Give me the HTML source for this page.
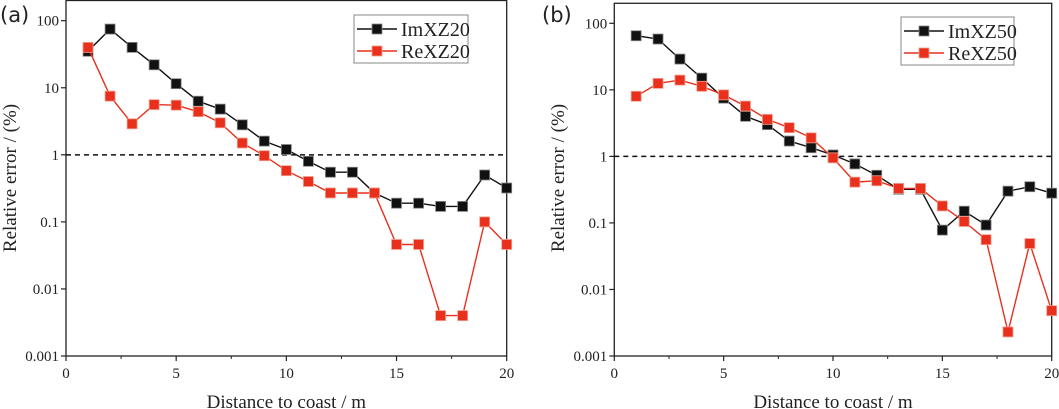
<!DOCTYPE html>
<html><head><meta charset="utf-8"><style>
body{margin:0;background:#fff;width:1059px;height:409px;overflow:hidden}
svg{display:block}
text{font-family:"Liberation Serif",serif;fill:#222}
</style></head><body>
<svg id="chart" width="1059" height="409"></svg>
<script>
const xTicks=[0,5,10,15,20];
const yTicks=[0.001,0.01,0.1,1,10,100];
const yTickLabels=["0.001","0.01","0.1","1","10","100"];
const distances=[1,2,3,4,5,6,7,8,9,10,11,12,13,14,15,16,17,18,19,20];
const imXZ20=[35,75,40,22,11.5,6.3,4.8,2.8,1.6,1.2,0.8,0.55,0.55,0.27,0.19,0.19,0.17,0.17,0.5,0.32];
const reXZ20=[40,7.5,2.9,5.6,5.5,4.4,3,1.5,0.97,0.58,0.4,0.27,0.27,0.27,0.046,0.046,0.004,0.004,0.1,0.046];
const imXZ50=[65,58,29,15,7.5,4,3,1.7,1.35,1.05,0.77,0.52,0.32,0.32,0.078,0.15,0.093,0.3,0.35,0.28];
const reXZ50=[8,12.5,14,11.3,8.4,5.7,3.6,2.7,1.9,0.95,0.41,0.43,0.33,0.33,0.18,0.105,0.056,0.0023,0.049,0.0048];

const NS="http://www.w3.org/2000/svg";
const svg=document.getElementById('chart');
function mk(tag,attrs,parent){const e=document.createElementNS(NS,tag);for(const k in attrs)e.setAttribute(k,attrs[k]);(parent||svg).appendChild(e);return e;}

function panel(cfg){
  const g=mk('g',{});
  
  
  const xs=v=>cfg.x0+(cfg.x1-cfg.x0)*v/20;
  const ys=v=>cfg.yb-(cfg.yb-cfg.y100)*(Math.log10(v)+3)/5;
  const fr=mk('rect',{x:cfg.x0,y:cfg.top,width:cfg.x1-cfg.x0,height:cfg.yb-cfg.top,fill:'none',stroke:'#222','stroke-width':1.3},g);
  
  
  xTicks.forEach(t=>{
    mk('line',{x1:xs(t),x2:xs(t),y1:cfg.yb,y2:cfg.yb+5,stroke:'#222','stroke-width':1.2},g);
    const tx=mk('text',{x:xs(t),y:cfg.yb+22,'text-anchor':'middle','font-size':15},g);
    tx.textContent=t;
    
    
  });
  [2.5,7.5,12.5,17.5].forEach(t=>mk('line',{x1:xs(t),x2:xs(t),y1:cfg.yb,y2:cfg.yb+3,stroke:'#222','stroke-width':1},g));
  yTicks.forEach((t,i)=>{
    mk('line',{x1:cfg.x0-5,x2:cfg.x0,y1:ys(t),y2:ys(t),stroke:'#222','stroke-width':1.2},g);
    const tx=mk('text',{x:cfg.x0-7,y:ys(t)+5,'text-anchor':'end','font-size':15},g);
    tx.textContent=yTickLabels[i];
    
    
  });
  const dl=mk('line',{x1:cfg.x0,x2:cfg.x1,y1:ys(1),y2:ys(1),stroke:'#111','stroke-width':1.5,'stroke-dasharray':'5,4'},g);
  
  
  const xt=mk('text',{x:(cfg.x0+cfg.x1)/2,y:408,'text-anchor':'middle','font-size':19},g);
  xt.textContent='Distance to coast / m';
  
  
  const yt=mk('text',{x:0,y:0,'text-anchor':'middle','font-size':19,transform:`translate(${cfg.ytx},178) rotate(-90)`},g);
  yt.textContent='Relative error / (%)';
  
  
  const pl=mk('text',{x:cfg.plx,y:22,'font-size':21,style:'font-family:"DejaVu Sans","Liberation Sans",sans-serif'},g);
  pl.textContent=cfg.label;
  
  
  cfg.series.forEach(s=>{
    const sg=mk('g',{},g);
    
    
    const pts=s.vals.map((v,i)=>xs(distances[i]).toFixed(1)+','+ys(v).toFixed(1)).join(' ');
    mk('polyline',{points:pts,fill:'none',stroke:s.color,'stroke-width':1.4},sg);
    s.vals.forEach((v,i)=>{
      const r=mk('rect',{x:xs(distances[i])-5,y:ys(v)-5,width:10,height:10,fill:s.color,stroke:s.edge,'stroke-width':0.8},sg);
      
      
    });
  });
  const lg=mk('g',{},g);
  
  
  mk('rect',{x:cfg.lx,y:cfg.ly,width:cfg.lw,height:48,fill:'#fff',stroke:'#888','stroke-width':1},lg);
  cfg.series.forEach((s,i)=>{
    const yy=cfg.ly+14+i*22;
    const le=mk('g',{},lg);
    
    
    mk('line',{x1:cfg.lx+3,x2:cfg.lx+43,y1:yy,y2:yy,stroke:s.color,'stroke-width':1.4},le);
    mk('rect',{x:cfg.lx+18,y:yy-5,width:10,height:10,fill:s.color,stroke:s.edge,'stroke-width':0.8},le);
    const t=mk('text',{x:cfg.lx+47,y:yy+7,'font-size':20},le);
    t.textContent=s.label;
  });
}
panel({name:'panel-a',label:'(a)',plx:0,x0:66,x1:506.7,top:0.5,y100:20.7,yb:356,ytx:16,lx:354,ly:15,lw:114,
 series:[{name:'series-imxz20',label:'ImXZ20',vals:imXZ20,color:'#111',edge:'#888'},{name:'series-rexz20',label:'ReXZ20',vals:reXZ20,color:'#e8301c',edge:'#f3a090'}]});
panel({name:'panel-b',label:'(b)',plx:542,x0:614.3,x1:1051.7,top:3.3,y100:23.3,yb:356,ytx:564,lx:901,ly:17,lw:113,
 series:[{name:'series-imxz50',label:'ImXZ50',vals:imXZ50,color:'#111',edge:'#888'},{name:'series-rexz50',label:'ReXZ50',vals:reXZ50,color:'#e8301c',edge:'#f3a090'}]});
</script>
</body></html>
